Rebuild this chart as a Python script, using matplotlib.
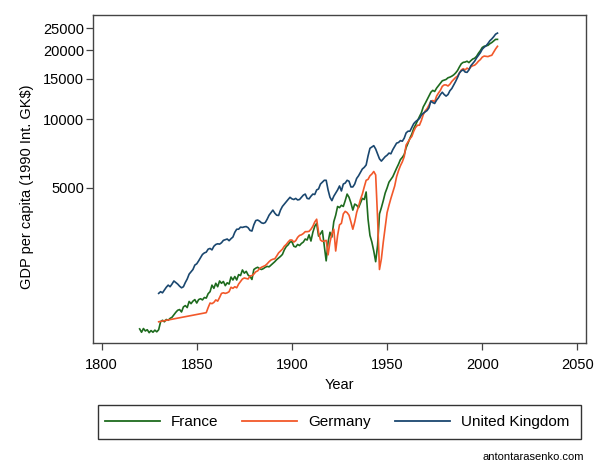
import numpy as np
import matplotlib.pyplot as plt
from matplotlib.patches import Rectangle
from matplotlib.lines import Line2D

plt.rcParams['font.family'] = ['Liberation Sans', 'DejaVu Sans']

# GDP per capita, 1990 Int. GK$
france_years = np.arange(1820, 2009)
france = [1210, 1170, 1215, 1185, 1200, 1165, 1190, 1170, 1195, 1175,
          1200, 1300, 1320, 1300, 1330, 1320, 1345, 1360, 1395, 1430,
          1460, 1470, 1435, 1510, 1530, 1500, 1595, 1560, 1600, 1625,
          1570, 1625, 1640, 1620, 1660, 1650, 1725, 1760, 1880, 1820,
          1915, 1850, 1960, 1915, 1950, 1870, 1925, 1900, 2040, 1980,
          2050, 1980, 2090, 2070, 2190, 2120, 2160, 2080, 2050, 1990,
          2200, 2230, 2250, 2220, 2200, 2220, 2250, 2270, 2260, 2300,
          2340, 2380, 2430, 2470, 2510, 2560, 2680, 2770, 2820, 2900,
          2910, 2780, 2760, 2830, 2800, 2860, 2900, 2990, 2960, 3120,
          2930, 3200, 3400, 3500, 3080, 3150, 3250, 2800, 2400, 2900,
          3200, 3050, 3560, 3800, 4150, 4100, 4200, 4150, 4400, 4700,
          4550, 4300, 4000, 4250, 4200, 4100, 4300, 4500, 4450, 4800,
          3650, 3100, 2900, 2650, 2380, 2800, 3850, 4100, 4400, 4750,
          5000, 5300, 5450, 5600, 5850, 6100, 6350, 6650, 6800, 7000,
          7500, 7850, 8250, 8600, 9100, 9450, 9850, 10250, 10650, 11300,
          11700, 12150, 12600, 13100, 13350, 13200, 13650, 14000, 14350, 14700,
          14800, 14900, 15150, 15250, 15400, 15600, 15900, 16300, 16900, 17450,
          17700, 17750, 17900, 17650, 18000, 18300, 18450, 18800, 19400, 19900,
          20550, 20800, 20900, 21000, 21350, 21600, 21950, 22300, 22300]

germany_years = np.concatenate([[1830], np.arange(1855, 2009)])
germany = [1300, 1425,
           1500, 1570, 1560, 1580,
           1620, 1600, 1660, 1730, 1740, 1730, 1740, 1760, 1840, 1820,
           1850, 1830, 1900, 1950, 2000, 2020, 2010, 2000, 2060, 2070,
           2100, 2150, 2170, 2220, 2250, 2270, 2290, 2330, 2380, 2420,
           2440, 2450, 2520, 2600, 2650, 2700, 2780, 2830, 2900, 2960,
           2960, 2900, 2940, 3040, 3100, 3120, 3160, 3220, 3220, 3230,
           3300, 3400, 3550, 3650, 3200, 2960, 2920, 2930, 2950, 2550,
           2900, 3150, 3300, 2650, 3100, 3450, 3500, 3850, 3950, 3900,
           3800, 3550, 3300, 3550, 3900, 4150, 4450, 4700, 5050, 5400,
           5450, 5650, 5750, 5900, 5700, 3700, 2200, 2450, 2900, 3350,
           3900, 4200, 4500, 4800, 5100, 5600, 5950, 6250, 6500, 6850,
           7700, 7950, 8200, 8400, 8850, 9200, 9400, 9400, 9850, 10450,
           10850, 11100, 11500, 11950, 12050, 11900, 12600, 13000, 13350, 13900,
           14100, 14100, 13950, 14200, 14600, 14900, 15200, 15400, 15900, 16400,
           16600, 16400, 16700, 16500, 16900, 17100, 17200, 17500, 17900, 18200,
           18650, 18850, 18800, 18750, 18900, 19000, 19600, 20250, 20800]

uk_years = np.arange(1830, 2009)
uk = [1730, 1760, 1740, 1790, 1840, 1880, 1850, 1900, 1960, 1930,
      1900, 1860, 1830, 1850, 1930, 2000, 2100, 2150, 2200, 2300,
      2330, 2400, 2480, 2560, 2600, 2620, 2700, 2720, 2680, 2780,
      2830, 2850, 2840, 2880, 2950, 2970, 2990, 2940, 3000, 3050,
      3200, 3300, 3300, 3370, 3360, 3380, 3390, 3350, 3260, 3240,
      3450, 3600, 3620, 3580, 3520, 3500, 3530, 3650, 3800, 3900,
      4000, 3880, 3800, 3790, 4000, 4150, 4250, 4350, 4450, 4550,
      4480, 4450, 4500, 4430, 4450, 4550, 4650, 4700, 4500, 4480,
      4600, 4700, 4680, 4900, 4950, 5200, 5300, 5400, 5400, 4900,
      4550, 4400, 4600, 4750, 4900, 5100, 4850, 5200, 5250, 5400,
      5350, 5050, 5050, 5200, 5500, 5650, 5850, 6050, 6150, 6300,
      6900, 7450, 7550, 7650, 7400, 7050, 6700, 6550, 6700, 6850,
      6950, 7100, 7050, 7350, 7600, 7850, 7900, 8050, 8000, 8250,
      8700, 8850, 8850, 9200, 9550, 9750, 9900, 10050, 10400, 10600,
      10750, 10900, 11200, 12000, 11800, 11700, 12100, 12400, 12800, 13100,
      12800, 12600, 12800, 13300, 13600, 14100, 14600, 15200, 15900, 16250,
      16400, 16050, 16000, 16400, 17100, 17500, 17900, 18500, 19000, 19500,
      20200, 20600, 20900, 21400, 22000, 22400, 22900, 23500, 23750]

names = ['France', 'Germany', 'United Kingdom']
colors = ['#1e6b1e', '#f2582a', '#1a476f']
y_ticks = [5000, 10000, 15000, 20000, 25000]
x_ticks = [1800, 1850, 1900, 1950, 2000, 2050]

fig = plt.figure(figsize=(6.02, 4.68), dpi=100)
ax = fig.add_axes([93 / 602, 1 - 343 / 468, 493 / 602, 328 / 468])

series = [(france_years, france), (germany_years, germany), (uk_years, uk)]
for (yrs, vals), c in zip(series, colors):
    ax.plot(yrs, vals, color=c, lw=1.2)

ax.set_yscale('log')
ax.set_ylim(1050, 28500)
ax.set_xlim(1795.5, 2054.5)
ax.set_yticks(y_ticks)
ax.set_yticklabels([str(v) for v in y_ticks])
ax.minorticks_off()
ax.set_xticks(x_ticks)

for s in ax.spines.values():
    s.set_color('#444444')
    s.set_linewidth(1.0)
ax.tick_params(axis='both', labelsize=10.5, length=5, width=0.9,
               color='#444444', direction='out')
ax.tick_params(axis='x', pad=6)
ax.tick_params(axis='y', pad=1.5)

ax.set_ylabel('GDP per capita (1990 Int. GK$)', fontsize=10.5)
ax.yaxis.set_label_coords(-0.12, 0.475)
ax.set_xlabel('Year', fontsize=10.5)
ax.xaxis.set_label_coords(0.5, -0.108)

# legend box under the plot
fig.patches.append(Rectangle((98 / 602, 1 - 439 / 468), 483 / 602, 34.5 / 468,
                             transform=fig.transFigure, fill=False,
                             edgecolor='#333333', lw=1.0))
handles = [Line2D([], [], color=c, lw=1.3) for c in colors]
fig.legend(handles, names, loc='center', ncol=3, frameon=False,
           bbox_to_anchor=(337 / 602, 1 - 422 / 468), fontsize=11,
           handlelength=3.6, handletextpad=0.7, columnspacing=1.6)

fig.text(584 / 602, 1 - 457 / 468, 'antontarasenko.com', ha='right',
         va='center', fontsize=8)

fig.savefig('out.png', dpi=100)
